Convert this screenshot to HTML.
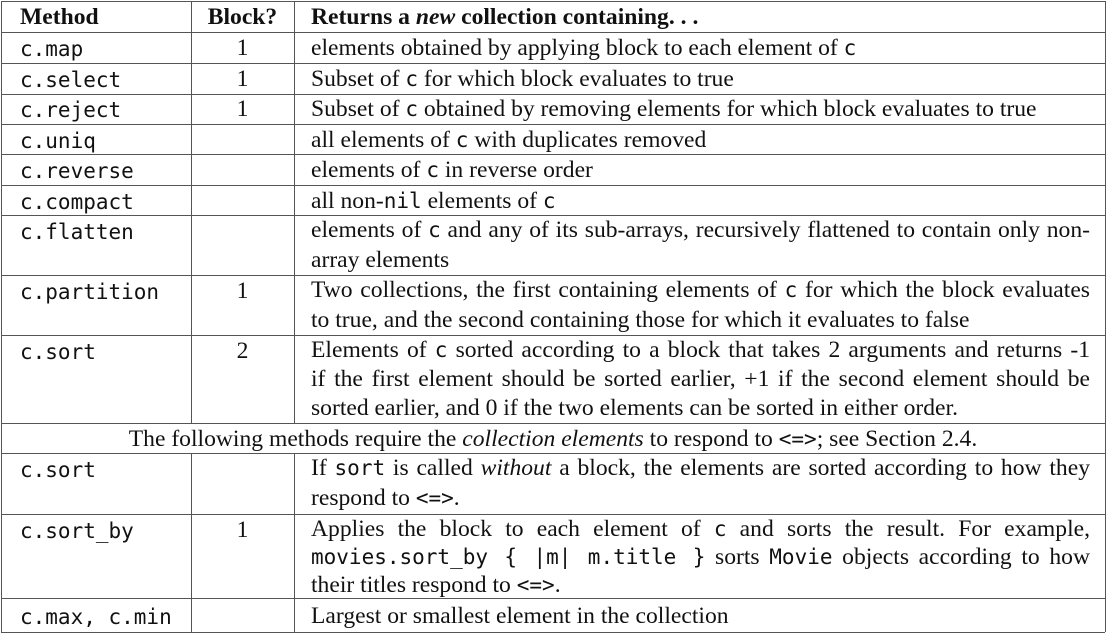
<!DOCTYPE html>
<html><head><meta charset="utf-8">
<style>
html,body{margin:0;padding:0;background:#fff;width:1108px;height:634px;overflow:hidden;position:relative}
.h{position:absolute;height:0;border-top:1.3px solid #555}
.v{position:absolute;width:0;border-left:1.3px solid #555}
.t{position:absolute;font-family:"Liberation Serif",serif;font-size:23.6px;color:#111;line-height:30.4px;white-space:nowrap;margin-top:1px}
.m,code{font-family:"DejaVu Sans Mono","Liberation Mono",monospace;font-size:21px;line-height:1}
.t.m{line-height:30.4px;margin-top:2px}
.d{width:779px;left:311px;white-space:normal;text-align:justify;text-align-last:left}
.jl{text-align:justify;text-align-last:justify;white-space:nowrap}
.b{left:191px;width:103px;text-align:center}
.n{left:20px}
</style></head><body>
<div>
<div class="h" style="left:1px;width:1104px;top:1px"></div>
<div class="h" style="left:1px;width:1104px;top:32px"></div>
<div class="h" style="left:1px;width:1104px;top:63px"></div>
<div class="h" style="left:1px;width:1104px;top:94px"></div>
<div class="h" style="left:1px;width:1104px;top:124px"></div>
<div class="h" style="left:1px;width:1104px;top:154px"></div>
<div class="h" style="left:1px;width:1104px;top:185px"></div>
<div class="h" style="left:1px;width:1104px;top:215px"></div>
<div class="h" style="left:1px;width:1104px;top:275px"></div>
<div class="h" style="left:1px;width:1104px;top:335px"></div>
<div class="h" style="left:1px;width:1104px;top:423px"></div>
<div class="h" style="left:1px;width:1104px;top:453px"></div>
<div class="h" style="left:1px;width:1104px;top:514px"></div>
<div class="h" style="left:1px;width:1104px;top:598px"></div>
<div class="h" style="left:1px;width:1104px;top:632px"></div>
<div class="v" style="left:1px;top:1px;height:631px"></div>
<div class="v" style="left:1105px;top:1px;height:631px"></div>
<div class="v" style="left:191px;top:1px;height:422px"></div>
<div class="v" style="left:294px;top:1px;height:422px"></div>
<div class="v" style="left:191px;top:453px;height:179px"></div>
<div class="v" style="left:294px;top:453px;height:179px"></div>
</div>

<div class="t n" style="top:1px;font-weight:bold">Method</div>
<div class="t b" style="top:1px;font-weight:bold">Block?</div>
<div class="t" style="left:311px;top:1px;font-weight:bold">Returns a <i>new</i> collection containing. . .</div>

<div class="t n m" style="top:32px">c.map</div>
<div class="t b" style="top:32px">1</div>
<div class="t d" style="top:32px">elements obtained by applying block to each element of <code>c</code></div>

<div class="t n m" style="top:63px">c.select</div>
<div class="t b" style="top:63px">1</div>
<div class="t d" style="top:63px">Subset of <code>c</code> for which block evaluates to true</div>

<div class="t n m" style="top:93px">c.reject</div>
<div class="t b" style="top:93px">1</div>
<div class="t d" style="top:93px">Subset of <code>c</code> obtained by removing elements for which block evaluates to true</div>

<div class="t n m" style="top:124px">c.uniq</div>
<div class="t d" style="top:124px">all elements of <code>c</code> with duplicates removed</div>

<div class="t n m" style="top:154px">c.reverse</div>
<div class="t d" style="top:154px">elements of <code>c</code> in reverse order</div>

<div class="t n m" style="top:185px">c.compact</div>
<div class="t d" style="top:185px">all non-<code>nil</code> elements of <code>c</code></div>

<div class="t n m" style="top:215px">c.flatten</div>
<div class="t d" style="top:215px;line-height:29.5px">elements of <code>c</code> and any of its sub-arrays, recursively flattened to contain only non-array elements</div>

<div class="t n m" style="top:275px">c.partition</div>
<div class="t b" style="top:275px">1</div>
<div class="t d" style="top:275px;line-height:29.5px">Two collections, the first containing elements of <code>c</code> for which the block evaluates to true, and the second containing those for which it evaluates to false</div>

<div class="t n m" style="top:335px">c.sort</div>
<div class="t b" style="top:335px">2</div>
<div class="t d" style="top:335px;line-height:29px"><div class="jl">Elements of <code>c</code> sorted according to a block that takes 2 arguments and returns -1</div><div class="jl">if the first element should be sorted earlier, +1 if the second element should be</div><div>sorted earlier, and 0 if the two elements can be sorted in either order.</div></div>

<div class="t" style="left:1px;width:1104px;text-align:center;top:423px;line-height:30px">The following methods require the <i>collection elements</i> to respond to <code>&lt;=&gt;</code>; see Section 2.4.</div>

<div class="t n m" style="top:453px">c.sort</div>
<div class="t d" style="top:453px;line-height:29.5px">If <code>sort</code> is called <i>without</i> a block, the elements are sorted according to how they respond to <code>&lt;=&gt;</code>.</div>

<div class="t n m" style="top:514px">c.sort_by</div>
<div class="t b" style="top:514px">1</div>
<div class="t d" style="top:514px;line-height:28px">Applies the block to each element of <code>c</code> and sorts the result. For example, <code>movies.sort_by { |m| m.title }</code> sorts <code>Movie</code> objects according to how their titles respond to <code>&lt;=&gt;</code>.</div>

<div class="t n m" style="top:600px">c.max, c.min</div>
<div class="t d" style="top:600px">Largest or smallest element in the collection</div>
</body></html>
